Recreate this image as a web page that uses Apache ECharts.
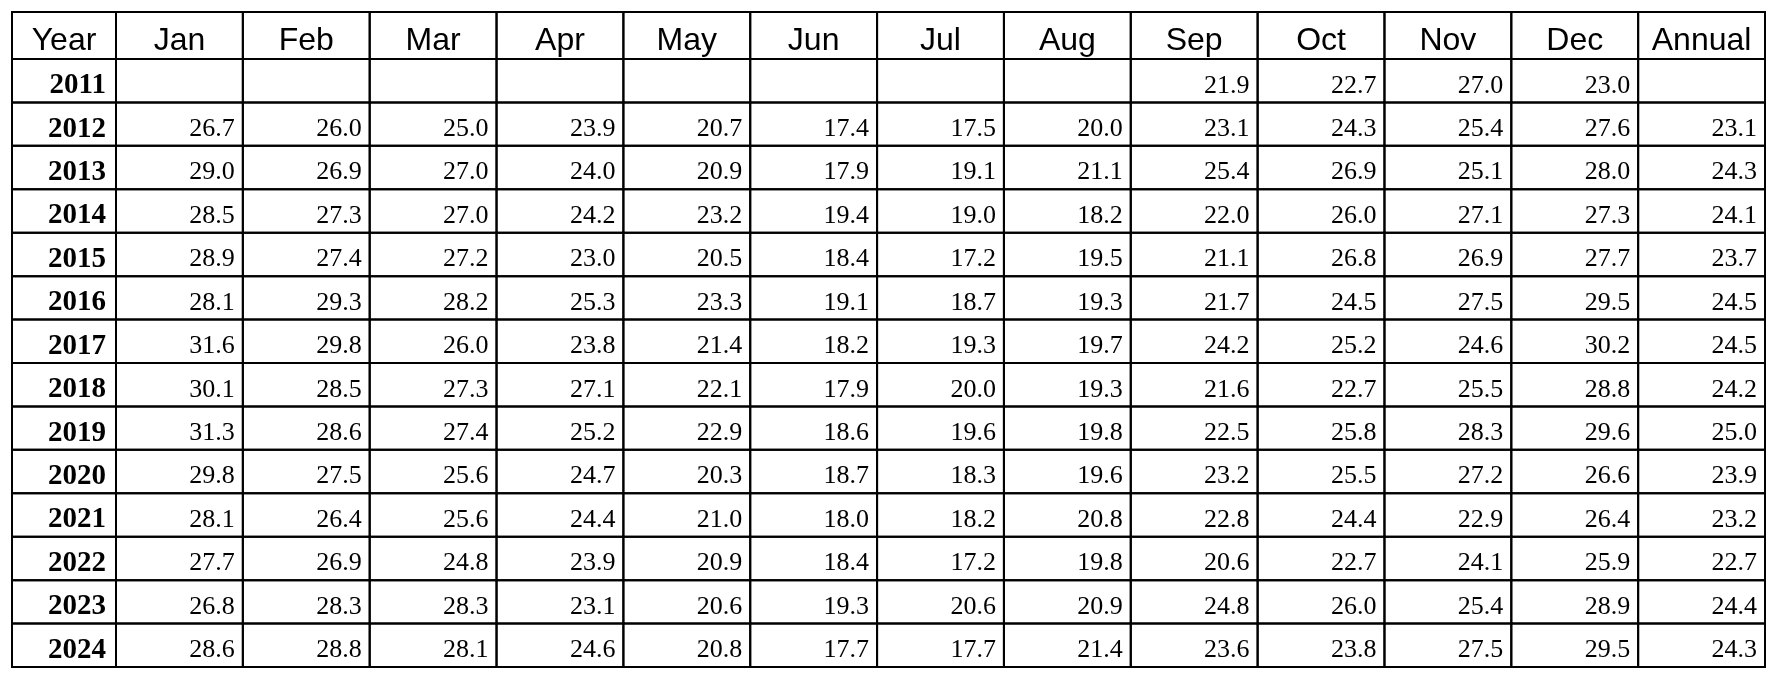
<!DOCTYPE html>
<html>
<head>
<meta charset="utf-8">
<script src="https://cdn.jsdelivr.net/npm/echarts@6/dist/echarts.min.js"></script>
<style>
  html, body { margin: 0; padding: 0; background: #fff; }
  #chart { width: 1773px; height: 675px; }
</style>
</head>
<body>
<div id="chart"></div>
<script>
// ---- Data ----
const yearHeader = 'Year';
const columns = ['Jan', 'Feb', 'Mar', 'Apr', 'May', 'Jun', 'Jul', 'Aug', 'Sep', 'Oct', 'Nov', 'Dec', 'Annual'];
const years = ['2011', '2012', '2013', '2014', '2015', '2016', '2017', '2018', '2019', '2020', '2021', '2022', '2023', '2024'];

const r2011 = [null, null, null, null, null, null, null, null, 21.9, 22.7, 27.0, 23.0, null];
const r2012 = [26.7, 26.0, 25.0, 23.9, 20.7, 17.4, 17.5, 20.0, 23.1, 24.3, 25.4, 27.6, 23.1];
const r2013 = [29.0, 26.9, 27.0, 24.0, 20.9, 17.9, 19.1, 21.1, 25.4, 26.9, 25.1, 28.0, 24.3];
const r2014 = [28.5, 27.3, 27.0, 24.2, 23.2, 19.4, 19.0, 18.2, 22.0, 26.0, 27.1, 27.3, 24.1];
const r2015 = [28.9, 27.4, 27.2, 23.0, 20.5, 18.4, 17.2, 19.5, 21.1, 26.8, 26.9, 27.7, 23.7];
const r2016 = [28.1, 29.3, 28.2, 25.3, 23.3, 19.1, 18.7, 19.3, 21.7, 24.5, 27.5, 29.5, 24.5];
const r2017 = [31.6, 29.8, 26.0, 23.8, 21.4, 18.2, 19.3, 19.7, 24.2, 25.2, 24.6, 30.2, 24.5];
const r2018 = [30.1, 28.5, 27.3, 27.1, 22.1, 17.9, 20.0, 19.3, 21.6, 22.7, 25.5, 28.8, 24.2];
const r2019 = [31.3, 28.6, 27.4, 25.2, 22.9, 18.6, 19.6, 19.8, 22.5, 25.8, 28.3, 29.6, 25.0];
const r2020 = [29.8, 27.5, 25.6, 24.7, 20.3, 18.7, 18.3, 19.6, 23.2, 25.5, 27.2, 26.6, 23.9];
const r2021 = [28.1, 26.4, 25.6, 24.4, 21.0, 18.0, 18.2, 20.8, 22.8, 24.4, 22.9, 26.4, 23.2];
const r2022 = [27.7, 26.9, 24.8, 23.9, 20.9, 18.4, 17.2, 19.8, 20.6, 22.7, 24.1, 25.9, 22.7];
const r2023 = [26.8, 28.3, 28.3, 23.1, 20.6, 19.3, 20.6, 20.9, 24.8, 26.0, 25.4, 28.9, 24.4];
const r2024 = [28.6, 28.8, 28.1, 24.6, 20.8, 17.7, 17.7, 21.4, 23.6, 23.8, 27.5, 29.5, 24.3];

const rows = [r2011, r2012, r2013, r2014, r2015, r2016, r2017, r2018, r2019, r2020, r2021, r2022, r2023, r2024];

// ---- Build series data ----
const bodyData = [];
const bodyText = [];
rows.forEach((row, r) => {
  row.forEach((v, c) => {
    bodyData.push([columns[c], years[r]]);
    bodyText.push(v == null ? '' : v.toFixed(1));
  });
});
const yearData = years.map(y => [yearHeader, y]);
const headerData = columns.map(c => [c, 'h']);

const LINE = '#000';
const SERIF = '"Liberation Serif", "Times New Roman", serif';
const SANS = '"Liberation Sans", Arial, sans-serif';

function cellRender(getText, opts) {
  return function (params, api) {
    const p = api.coord([api.value(0), api.value(1)]);
    const s = api.size([1, 1]);
    const x0 = p[0] - s[0] / 2;
    const y0 = p[1] - s[1] / 2;
    let tx;
    if (opts.align === 'right') tx = x0 + s[0] - opts.pad;
    else tx = p[0];
    return {
      type: 'group',
      children: [
        {
          type: 'rect',
          shape: { x: x0, y: y0, width: s[0], height: s[1] },
          style: { fill: 'none', stroke: LINE, lineWidth: 2 }
        },
        {
          type: 'text',
          style: {
            text: getText(params.dataIndex),
            x: tx,
            y: p[1] + opts.dy,
            align: opts.align,
            verticalAlign: 'middle',
            fontFamily: opts.family,
            fontSize: opts.size,
            fontWeight: opts.weight || 'normal',
            fill: '#000'
          }
        }
      ]
    };
  };
}

const hiddenCat = (data, gridIndex, inverse) => ({
  type: 'category', data, gridIndex, inverse: !!inverse, show: false,
  axisLine: { show: false }, axisTick: { show: false }, splitLine: { show: false }
});

const option = {
  animation: false,
  backgroundColor: '#fff',
  grid: [
    { left: 12, top: 12, width: 104, height: 47 },
    { left: 116, top: 12, width: 1649, height: 47 },
    { left: 12, top: 59, width: 104, height: 608 },
    { left: 116, top: 59, width: 1649, height: 608 }
  ],
  xAxis: [
    hiddenCat([yearHeader], 0),
    hiddenCat(columns, 1),
    hiddenCat([yearHeader], 2),
    hiddenCat(columns, 3)
  ],
  yAxis: [
    hiddenCat(['h'], 0),
    hiddenCat(['h'], 1),
    hiddenCat(years, 2, true),
    hiddenCat(years, 3, true)
  ],
  series: [
    {
      type: 'custom', xAxisIndex: 0, yAxisIndex: 0,
      data: [[yearHeader, 'h']],
      renderItem: cellRender(() => yearHeader, { align: 'center', dy: 6, family: SANS, size: 32 })
    },
    {
      type: 'custom', xAxisIndex: 1, yAxisIndex: 1,
      data: headerData,
      renderItem: cellRender(i => columns[i], { align: 'center', dy: 6, family: SANS, size: 32 })
    },
    {
      type: 'custom', xAxisIndex: 2, yAxisIndex: 2,
      data: yearData,
      renderItem: cellRender(i => years[i], { align: 'right', pad: 10, dy: 5, family: SERIF, size: 29, weight: 'bold' })
    },
    {
      type: 'custom', xAxisIndex: 3, yAxisIndex: 3,
      data: bodyData,
      renderItem: cellRender(i => bodyText[i], { align: 'right', pad: 8, dy: 5, family: SERIF, size: 26 })
    }
  ]
};

const chart = echarts.init(document.getElementById('chart'), null, { renderer: 'canvas' });
chart.setOption(option);
</script>
</body>
</html>
